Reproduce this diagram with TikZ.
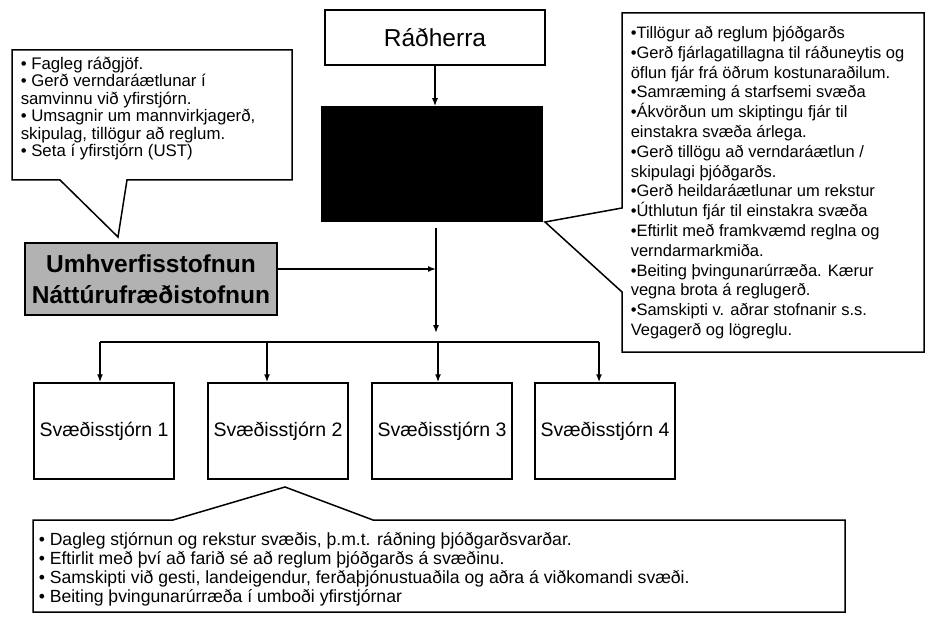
\documentclass[tikz,border=0pt]{standalone}
\usepackage{fontspec}
\setmainfont{Liberation Sans}
\usetikzlibrary{arrows.meta}
\begin{document}
\begin{tikzpicture}[x=1pt,y=-1pt,
  line width=1.5pt,
  box/.style={draw, line width=1.5pt, inner sep=0pt},
  arr/.style={-{Latex[length=8pt,width=6pt]}, line width=1.5pt},
  callout/.style={draw, line width=1.5pt, fill=white},
  txt/.style={anchor=base west, inner sep=0pt},
  smalltxt/.style={font=\fontsize{16.5}{20}\selectfont},
]
\useasboundingbox[fill=white] (0,0) rectangle (928,617);

% top boxes
\node[box, minimum width=220pt, minimum height=55pt, font=\fontsize{24.5}{28}\selectfont] (rad) at (435,37.5) {Ráðherra};
\node[box, fill=black, minimum width=220pt, minimum height=114pt] (blk) at (432,164) {};
\draw[arr] (rad.south) -- (rad.south |- blk.north);

% institutions box
\node[box, fill=black!30, minimum width=252pt, minimum height=72pt, align=center,
      font=\bfseries\fontsize{24.5}{31}\selectfont] (umh) at (151,279) {Umhverfisstofnun\\Náttúrufræðistofnun};

% trunk
\coordinate (t0) at (436,228);
\coordinate (t1) at (436,333);
\coordinate (j) at (436,269);
\draw[arr] (t0) -- (t1);
\draw[arr] (umh.east |- j) -- (j);

% regional boards
\foreach \i/\cx in {1/104,2/278,3/442,4/605}{
  \node[box, minimum width=140pt, minimum height=96pt, font=\fontsize{19.5}{22}\selectfont] (s\i) at (\cx,431) {\raisebox{-4pt}{Svæðisstjórn \i}};
}
\coordinate (bl) at (100,342);
\coordinate (br) at (599,342);
\draw (bl) -- (br);
\coordinate (d1) at (100,342);
\coordinate (d2) at (267,342);
\coordinate (d3) at (438,342);
\coordinate (d4) at (599,342);
\foreach \i in {1,2,3,4}{\draw[arr] (d\i) -- (d\i |- s\i.north);}

% left callout
\draw[callout] (12,50) -- (292,50) -- (292,180) -- (127,180) -- (118,237) -- (60,180) -- (12,180) -- cycle;
\node[txt, smalltxt] (ltx) at (20,69.5) {\parbox[t]{270pt}{\fontsize{16.8}{17.4}\selectfont\raggedright
• Fagleg ráðgjöf.\\
• Gerð verndaráætlunar í\\
samvinnu við yfirstjórn.\\
• Umsagnir um mannvirkjagerð,\\
skipulag, tillögur að reglum.\\
• Seta í yfirstjórn (UST)}};

% right callout
\draw[callout] (622,13) -- (924,13) -- (924,352) -- (622,352) -- (622,292) -- (545,222) -- (622,208) -- cycle;
\node[txt, smalltxt] (rtx) at (630,38.5) {\parbox[t]{290pt}{\fontsize{16.5}{19.8}\selectfont\raggedright
•Tillögur að reglum þjóðgarðs\\
•Gerð fjárlagatillagna til ráðuneytis og\\
öflun fjár frá öðrum kostunaraðilum.\\
•Samræming á starfsemi svæða\\
•Ákvörðun um skiptingu fjár til\\
einstakra svæða árlega.\\
•Gerð tillögu að verndaráætlun /\\
skipulagi þjóðgarðs.\\
•Gerð heildaráætlunar um rekstur\\
•Úthlutun fjár til einstakra svæða\\
•Eftirlit með framkvæmd reglna og\\
verndarmarkmiða.\\
•Beiting þvingunarúrræða. Kærur\\
vegna brota á reglugerð.\\
•Samskipti v. aðrar stofnanir s.s.\\
Vegagerð og lögreglu.}};

% bottom callout
\draw[callout] (33,520) -- (173,520) -- (285,487) -- (373,520) -- (845,520) -- (845,612) -- (33,612) -- cycle;
\node[txt, smalltxt] (btx) at (38,545) {\parbox[t]{800pt}{\fontsize{17.6}{19}\selectfont\raggedright
• Dagleg stjórnun og rekstur svæðis, þ.m.t. ráðning þjóðgarðsvarðar.\\
• Eftirlit með því að farið sé að reglum þjóðgarðs á svæðinu.\\
• Samskipti við gesti, landeigendur, ferðaþjónustuaðila og aðra á viðkomandi svæði.\\
• Beiting þvingunarúrræða í umboði yfirstjórnar}};
\end{tikzpicture}
\end{document}
